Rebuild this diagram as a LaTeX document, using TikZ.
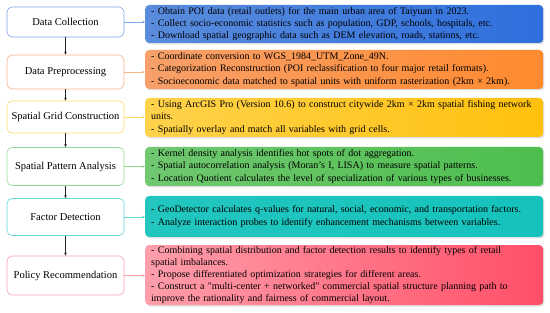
\documentclass[tikz,border=0pt]{standalone}
\usepackage{fontspec}
\setmainfont{Liberation Serif}
\newfontfamily\plainq{Liberation Serif}
\usetikzlibrary{shadows,arrows.meta}
\definecolor{bBlueL}{HTML}{5A8CDC}\definecolor{bBlueR}{HTML}{2E6FDD}\definecolor{lBlue}{HTML}{7BA7EA}
\definecolor{bOrL}{HTML}{F8A06A}\definecolor{bOrR}{HTML}{FF8A2E}\definecolor{lOr}{HTML}{F9B488}
\definecolor{bYeL}{HTML}{FFD24C}\definecolor{bYeR}{HTML}{FFC10E}\definecolor{lYe}{HTML}{FFD966}
\definecolor{bGrL}{HTML}{70C870}\definecolor{bGrR}{HTML}{4DBE4D}\definecolor{lGr}{HTML}{93DB93}
\definecolor{bTeL}{HTML}{22C6BF}\definecolor{bTeR}{HTML}{15C3BC}\definecolor{lTe}{HTML}{5FD8D4}
\definecolor{bReL}{HTML}{FF9EAB}\definecolor{bReR}{HTML}{FF4F68}\definecolor{lRe}{HTML}{FF9DAB}
\tikzset{
  stagebox/.style={draw=#1, line width=0.6pt, fill=white, rounded corners=5pt,
    minimum width=117pt, minimum height=34pt, inner sep=0pt, font=\fontsize{10.5}{12}\selectfont},
  detailbox/.style={rounded corners=4pt, text width=386pt, inner xsep=6pt, inner ysep=1pt,
    align=left, anchor=west, font=\fontsize{10}{12.4}\selectfont,
    drop shadow={opacity=0.25, shadow xshift=1.2pt, shadow yshift=-1.5pt}},
  sidearrow/.style={draw=#1, line width=0.5pt, -{Stealth[length=3pt,width=2.6pt]}},
  downarrow/.style={draw=black!85, line width=0.5pt, -{Stealth[length=3pt,width=2.6pt]}}
}
\begin{document}
\begin{tikzpicture}[x=1pt,y=-1pt]
\useasboundingbox (0,0) rectangle (550,313);
% left stage boxes
\node[stagebox=lBlue] (s1) at (65.5,22) [minimum height=30pt] {Data Collection};
\node[stagebox=lOr]   (s2) at (65.5,72) {Data Preprocessing};
\node[stagebox=lYe]   (s3) at (65.5,117) [minimum height=32pt] {Spatial Grid Construction};
\node[stagebox=lGr]   (s4) at (65.5,166.5) [minimum height=38pt] {Spatial Pattern Analysis};
\node[stagebox=lTe]   (s5) at (65.5,217) [minimum height=37pt] {Factor Detection};
\node[stagebox=lRe]   (s6) at (65.5,275.5) [minimum height=39pt] {Policy Recommendation};
% right detail boxes
\node[detailbox, left color=bBlueL, right color=bBlueR, minimum height=38pt] (d1) at (145,24)
 {- Obtain POI data (retail outlets) for the main urban area of Taiyuan in 2023.\\
  - Collect socio-economic statistics such as population, GDP, schools, hospitals, etc.\\
  - Download spatial geographic data such as DEM elevation, roads, stations, etc.};
\node[detailbox, left color=bOrL, right color=bOrR, minimum height=39pt] (d2) at (145,69.5)
 {- Coordinate conversion to WGS\_1984\_UTM\_Zone\_49N.\\
  - Categorization Reconstruction (POI reclassification to four major retail formats).\\
  - Socioeconomic data matched to spatial units with uniform rasterization (2km × 2km).};
\node[detailbox, left color=bYeL, right color=bYeR, minimum height=39pt] (d3) at (145,117.5)
 {- Using ArcGIS Pro (Version 10.6) to construct citywide 2km × 2km spatial fishing network\\
  units.\\
  - Spatially overlay and match all variables with grid cells.};
\node[detailbox, left color=bGrL, right color=bGrR, minimum height=39pt] (d4) at (145,166.5)
 {- Kernel density analysis identifies hot spots of dot aggregation.\\
  - Spatial autocorrelation analysis (Moran's I, LISA) to measure spatial patterns.\\
  - Location Quotient calculates the level of specialization of various types of businesses.};
\node[detailbox, left color=bTeL, right color=bTeR, minimum height=41pt] (d5) at (145,216.5)
 {- GeoDetector calculates q-values for natural, social, economic, and transportation factors.\\
  - Analyze interaction probes to identify enhancement mechanisms between variables.};
\node[detailbox, left color=bReL, right color=bReR, minimum height=60pt, font=\fontsize{10}{12}\selectfont] (d6) at (145,275)
 {- Combining spatial distribution and factor detection results to identify types of retail\\
  spatial imbalances.\\
  - Propose differentiated optimization strategies for different areas.\\
  - Construct a {\plainq"}multi-center + networked{\plainq"} commercial spatial structure planning path to\\
  improve the rationality and fairness of commercial layout.};
% side arrows
\draw[sidearrow=lBlue] (s1.east) -- (s1.east -| d1.west);
\draw[sidearrow=lOr]   (s2.east) -- (s2.east -| d2.west);
\draw[sidearrow=lYe]   (s3.east) -- (s3.east -| d3.west);
\draw[sidearrow=lGr]   (s4.east) -- (s4.east -| d4.west);
\draw[sidearrow=lTe]   (s5.east) -- (s5.east -| d5.west);
\draw[sidearrow=lRe]   (s6.east) -- (s6.east -| d6.west);
% down arrows
\draw[downarrow] (s1) -- (s2);
\draw[downarrow] (s2) -- (s3);
\draw[downarrow] (s3) -- (s4);
\draw[downarrow] (s4) -- (s5);
\draw[downarrow] (s5) -- (s6);
\end{tikzpicture}
\end{document}
